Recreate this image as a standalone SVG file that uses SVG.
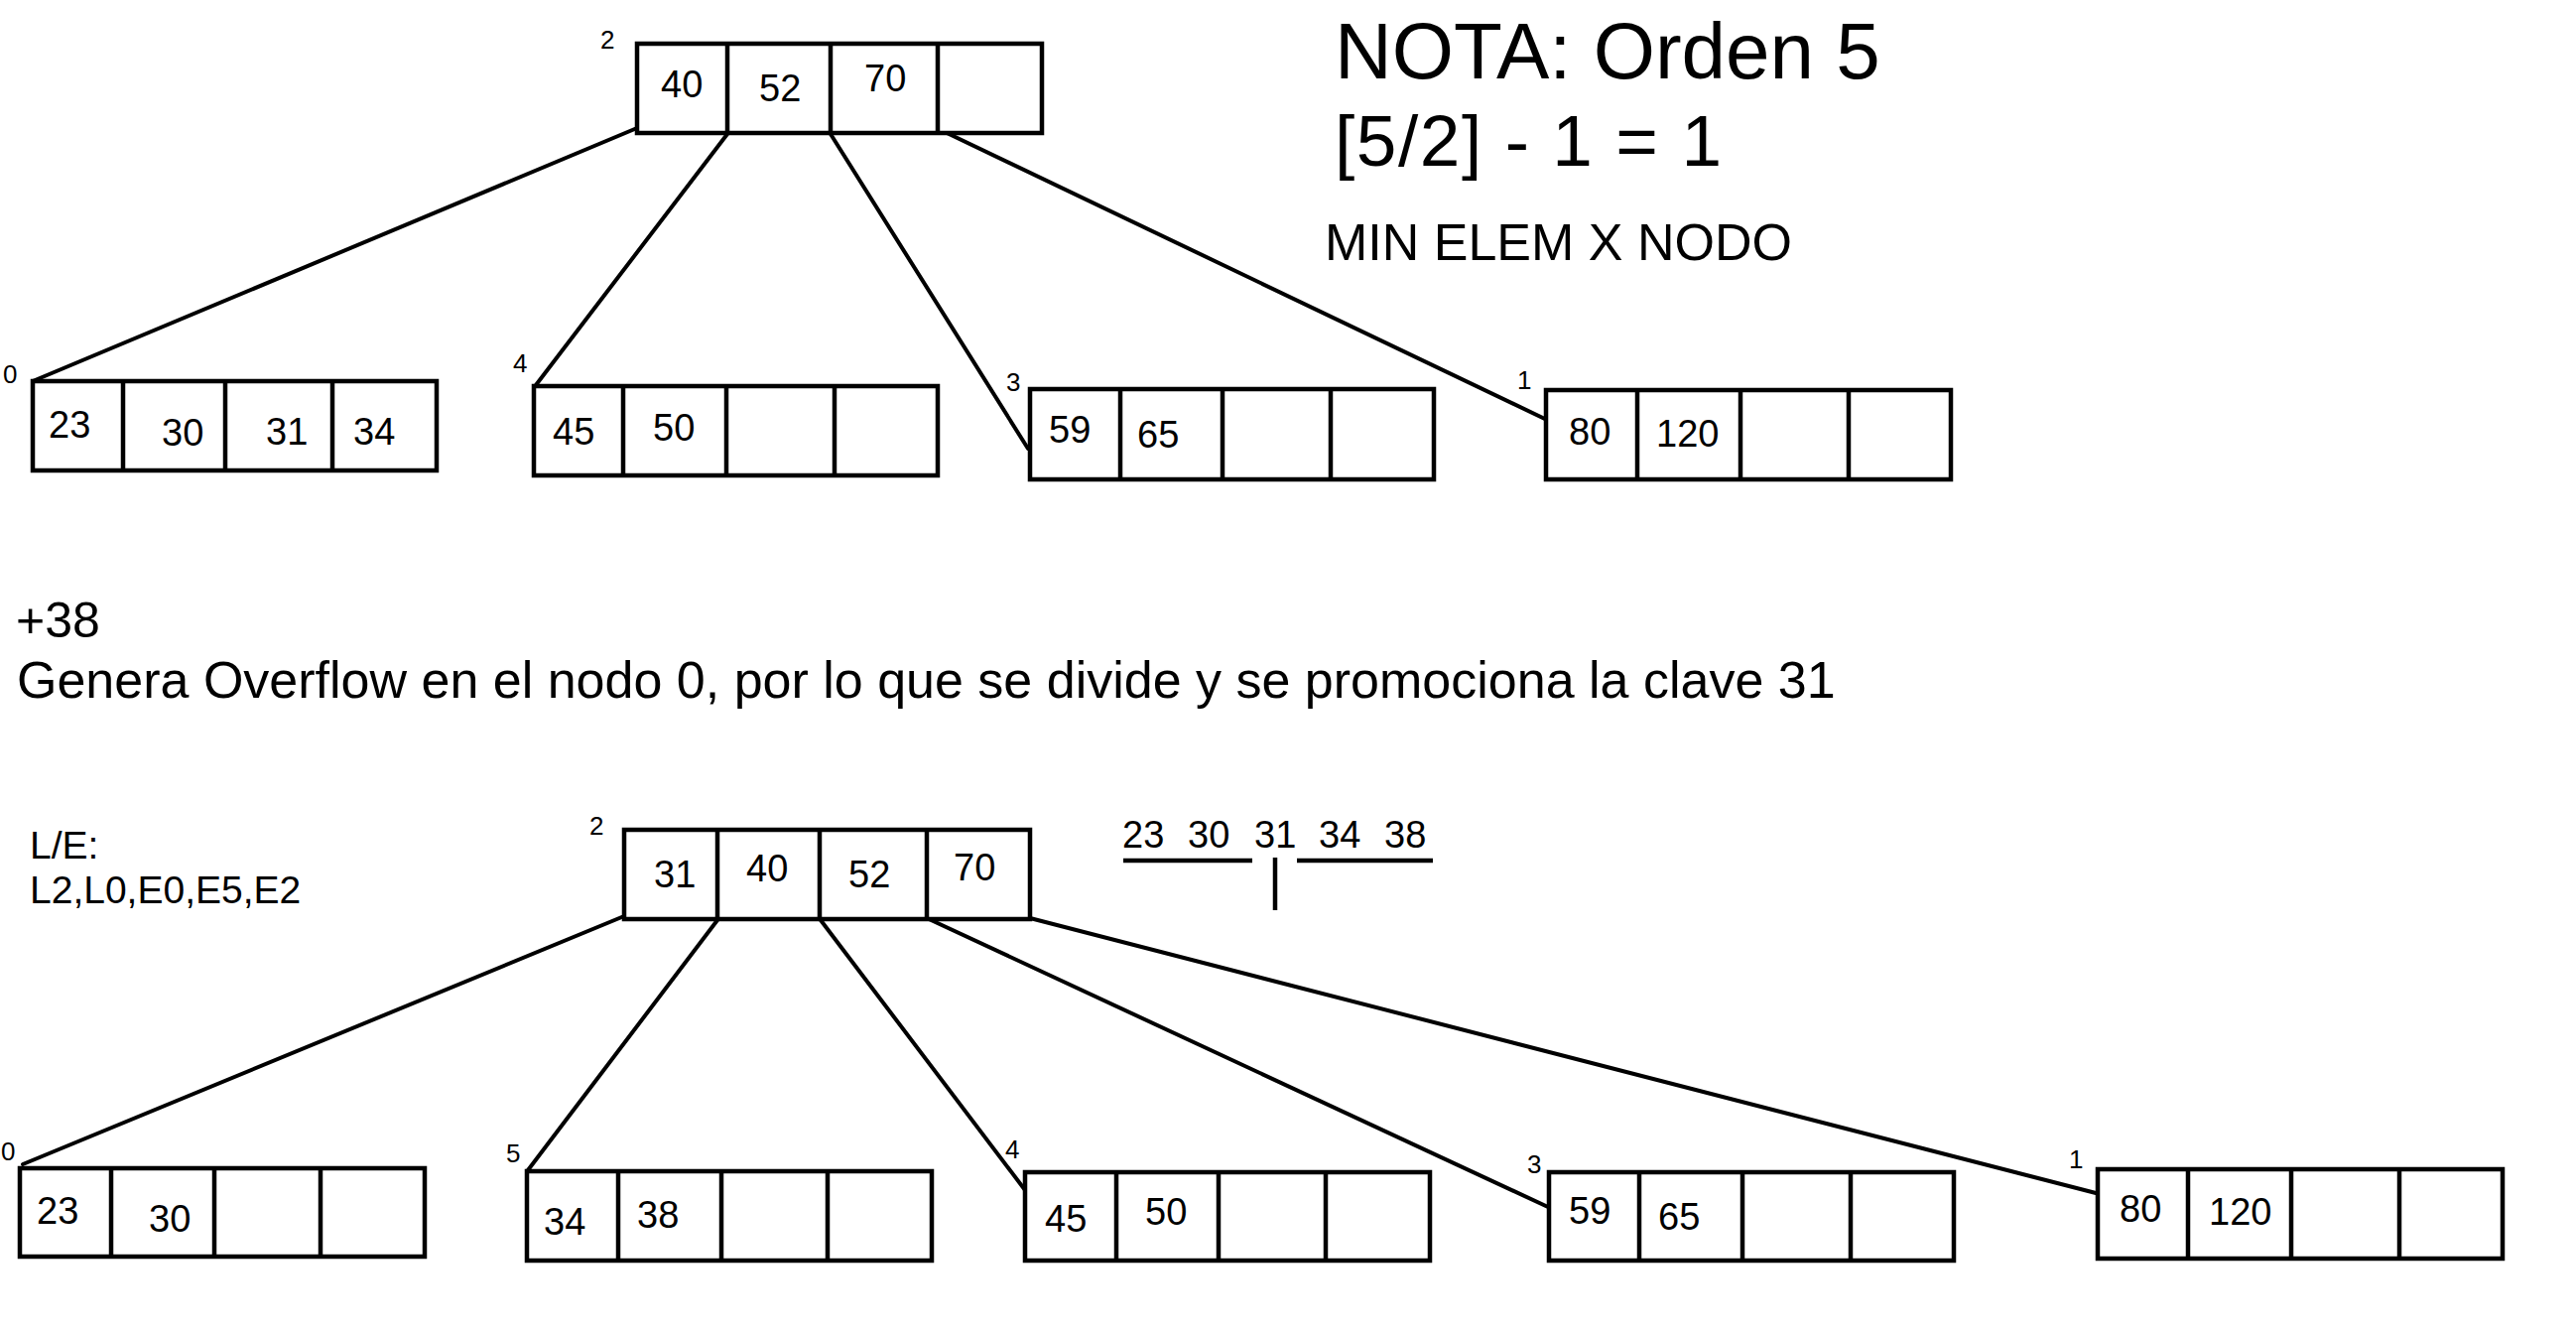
<svg xmlns="http://www.w3.org/2000/svg" width="2596" height="1344" viewBox="0 0 2596 1344">
<style>
.box{fill:#fff;stroke:#000;stroke-width:4.5}
.div{stroke:#000;stroke-width:4.5}
.edge{stroke:#000;stroke-width:4;fill:none;stroke-linecap:round}
.k{font-family:"Liberation Sans",Arial,sans-serif;font-size:38px;fill:#000}
.lbl{font-family:"Liberation Sans",Arial,sans-serif;font-size:26px;fill:#000}
.t{font-family:"Liberation Sans",Arial,sans-serif;fill:#000}
</style>
<rect width="2596" height="1344" fill="#fff"/>

<g id="connectors-top">
<line class="edge" x1="642" y1="129" x2="33" y2="384" stroke-width="4.5"/>
<line class="edge" x1="733" y1="135" x2="540" y2="388"/>
<line class="edge" x1="837" y1="135" x2="1036" y2="452"/>
<line class="edge" x1="948" y1="131" x2="1561" y2="424"/>
</g>

<g id="top-node-2">
<rect class="box" x="642" y="44" width="408" height="90"/>
<line class="div" x1="733" y1="44" x2="733" y2="134"/>
<line class="div" x1="837" y1="44" x2="837" y2="134"/>
<line class="div" x1="945" y1="44" x2="945" y2="134"/>
<text class="lbl" x="605" y="49">2</text>
<text class="k" x="666" y="98">40</text>
<text class="k" x="765" y="102">52</text>
<text class="k" x="871" y="92">70</text>
</g>

<g id="top-node-0">
<rect class="box" x="33" y="384" width="407" height="90"/>
<line class="div" x1="124" y1="384" x2="124" y2="474"/>
<line class="div" x1="227" y1="384" x2="227" y2="474"/>
<line class="div" x1="335" y1="384" x2="335" y2="474"/>
<text class="lbl" x="3" y="386">0</text>
<text class="k" x="49" y="441">23</text>
<text class="k" x="163" y="449">30</text>
<text class="k" x="268" y="448">31</text>
<text class="k" x="356" y="448">34</text>
</g>

<g id="top-node-4">
<rect class="box" x="538" y="389" width="407" height="90"/>
<line class="div" x1="628" y1="389" x2="628" y2="479"/>
<line class="div" x1="732" y1="389" x2="732" y2="479"/>
<line class="div" x1="841" y1="389" x2="841" y2="479"/>
<text class="lbl" x="517" y="375">4</text>
<text class="k" x="557" y="448">45</text>
<text class="k" x="658" y="444">50</text>
</g>

<g id="top-node-3">
<rect class="box" x="1038" y="392" width="407" height="91"/>
<line class="div" x1="1129" y1="392" x2="1129" y2="483"/>
<line class="div" x1="1232" y1="392" x2="1232" y2="483"/>
<line class="div" x1="1341" y1="392" x2="1341" y2="483"/>
<text class="lbl" x="1014" y="394">3</text>
<text class="k" x="1057" y="446">59</text>
<text class="k" x="1146" y="451">65</text>
</g>

<g id="top-node-1">
<rect class="box" x="1558" y="393" width="408" height="90"/>
<line class="div" x1="1650" y1="393" x2="1650" y2="483"/>
<line class="div" x1="1754" y1="393" x2="1754" y2="483"/>
<line class="div" x1="1863" y1="393" x2="1863" y2="483"/>
<text class="lbl" x="1529" y="392">1</text>
<text class="k" x="1581" y="448">80</text>
<text class="k" x="1669" y="450">120</text>
</g>

<g id="notes">
<text class="t" x="1345" y="79" font-size="80">NOTA: Orden 5</text>
<text class="t" x="1345" y="167" font-size="73" textLength="390" lengthAdjust="spacing">[5/2] - 1 = 1</text>
<text class="t" x="1335" y="262" font-size="52">MIN ELEM X NODO</text>
<text class="t" x="16" y="642" font-size="50">+38</text>
<text class="t" x="17" y="703" font-size="52">Genera Overflow en el nodo 0, por lo que se divide y se promociona la clave 31</text>
<text class="t" x="30" y="865" font-size="39">L/E:</text>
<text class="t" x="30" y="910" font-size="39">L2,L0,E0,E5,E2</text>
</g>

<g id="split-sketch">
<text class="k" x="1131" y="854">23</text>
<text class="k" x="1197" y="854">30</text>
<text class="k" x="1264" y="854">31</text>
<text class="k" x="1329" y="854">34</text>
<text class="k" x="1395" y="854">38</text>
<line class="div" x1="1132" y1="867" x2="1262" y2="867"/>
<line class="div" x1="1307" y1="867" x2="1444" y2="867"/>
<line class="div" x1="1285" y1="864" x2="1285" y2="917"/>
</g>

<g id="connectors-bottom">
<line class="edge" x1="629" y1="923" x2="23" y2="1173"/>
<line class="edge" x1="723" y1="927" x2="532" y2="1179"/>
<line class="edge" x1="827" y1="927" x2="1033" y2="1199"/>
<line class="edge" x1="934" y1="925" x2="1560" y2="1216"/>
<line class="edge" x1="1038" y1="925" x2="2116" y2="1203"/>
</g>

<g id="bottom-node-2">
<rect class="box" x="629" y="836" width="409" height="90"/>
<line class="div" x1="723" y1="836" x2="723" y2="926"/>
<line class="div" x1="826" y1="836" x2="826" y2="926"/>
<line class="div" x1="934" y1="836" x2="934" y2="926"/>
<text class="lbl" x="594" y="841">2</text>
<text class="k" x="659" y="894">31</text>
<text class="k" x="752" y="888">40</text>
<text class="k" x="855" y="894">52</text>
<text class="k" x="961" y="887">70</text>
</g>

<g id="bottom-node-0">
<rect class="box" x="20" y="1177" width="408" height="89"/>
<line class="div" x1="112" y1="1177" x2="112" y2="1266"/>
<line class="div" x1="216" y1="1177" x2="216" y2="1266"/>
<line class="div" x1="323" y1="1177" x2="323" y2="1266"/>
<text class="lbl" x="1" y="1169">0</text>
<text class="k" x="37" y="1233">23</text>
<text class="k" x="150" y="1241">30</text>
</g>

<g id="bottom-node-5">
<rect class="box" x="531" y="1180" width="408" height="90"/>
<line class="div" x1="623" y1="1180" x2="623" y2="1270"/>
<line class="div" x1="727" y1="1180" x2="727" y2="1270"/>
<line class="div" x1="834" y1="1180" x2="834" y2="1270"/>
<text class="lbl" x="510" y="1171">5</text>
<text class="k" x="548" y="1244">34</text>
<text class="k" x="642" y="1237">38</text>
</g>

<g id="bottom-node-4">
<rect class="box" x="1033" y="1181" width="408" height="89"/>
<line class="div" x1="1125" y1="1181" x2="1125" y2="1270"/>
<line class="div" x1="1228" y1="1181" x2="1228" y2="1270"/>
<line class="div" x1="1336" y1="1181" x2="1336" y2="1270"/>
<text class="lbl" x="1013" y="1167">4</text>
<text class="k" x="1053" y="1241">45</text>
<text class="k" x="1154" y="1234">50</text>
</g>

<g id="bottom-node-3">
<rect class="box" x="1561" y="1181" width="408" height="89"/>
<line class="div" x1="1652" y1="1181" x2="1652" y2="1270"/>
<line class="div" x1="1756" y1="1181" x2="1756" y2="1270"/>
<line class="div" x1="1865" y1="1181" x2="1865" y2="1270"/>
<text class="lbl" x="1539" y="1182">3</text>
<text class="k" x="1581" y="1233">59</text>
<text class="k" x="1671" y="1239">65</text>
</g>

<g id="bottom-node-1">
<rect class="box" x="2114" y="1178" width="408" height="90"/>
<line class="div" x1="2205" y1="1178" x2="2205" y2="1268"/>
<line class="div" x1="2309" y1="1178" x2="2309" y2="1268"/>
<line class="div" x1="2418" y1="1178" x2="2418" y2="1268"/>
<text class="lbl" x="2085" y="1177">1</text>
<text class="k" x="2136" y="1231">80</text>
<text class="k" x="2226" y="1234">120</text>
</g>
</svg>
